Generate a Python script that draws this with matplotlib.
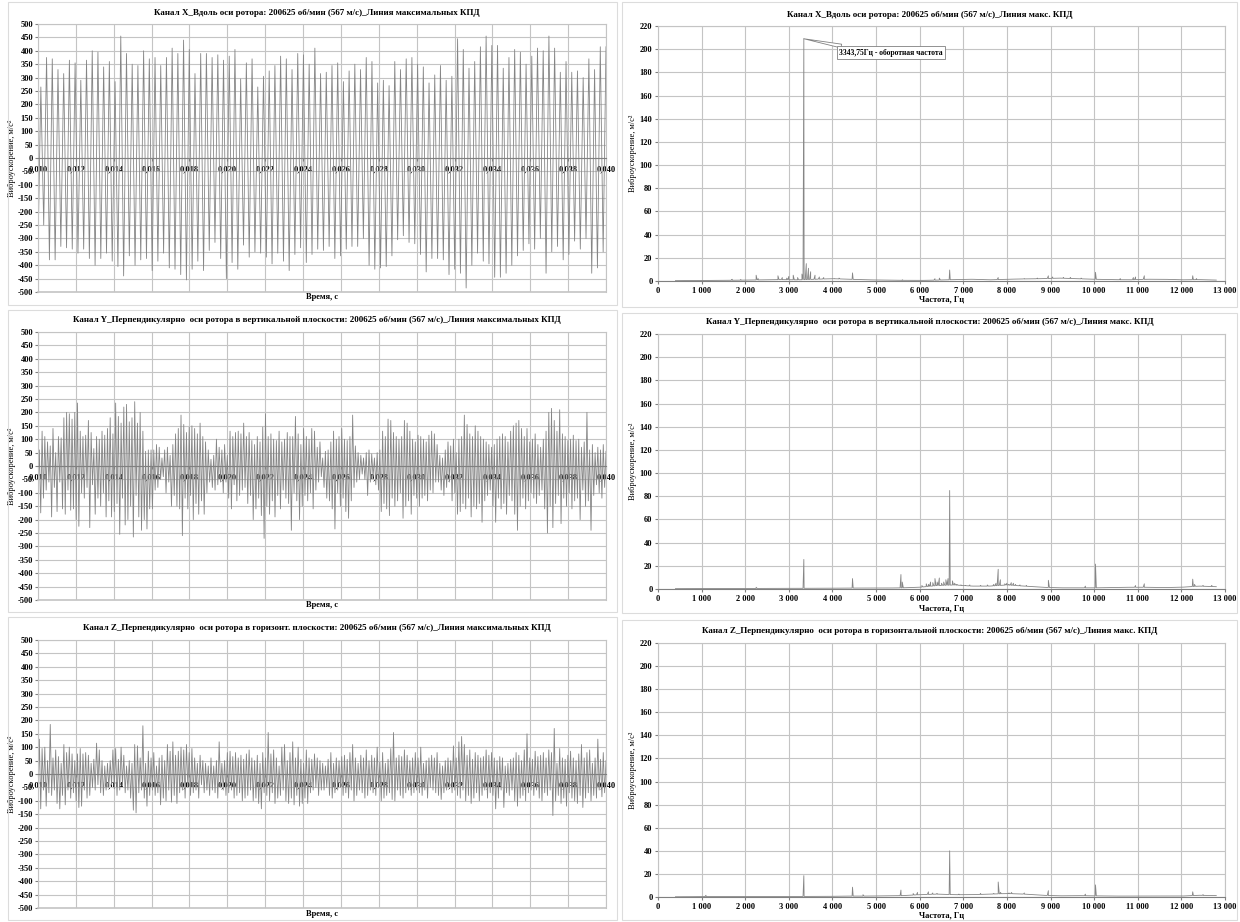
import numpy as np
import matplotlib
matplotlib.use("Agg")
from matplotlib import pyplot as plt
from matplotlib.patches import Rectangle
from matplotlib.ticker import FuncFormatter

plt.rcParams['font.family'] = ['Liberation Serif', 'DejaVu Serif']
plt.rcParams['font.weight'] = 'bold'

# ---- временные сигналы (пики / впадины, м/с2) ----
x_peaks = [265, 375, 370, 330, 315, 365, 355, 290, 365, 400,
           395, 340, 360, 285, 455, 390, 350, 345, 400, 370,
           375, 345, 375, 410, 390, 440, 405, 315, 390, 390,
           375, 385, 365, 380, 405, 295, 355, 370, 265, 305,
           325, 345, 380, 370, 330, 390, 385, 350, 410, 315,
           320, 345, 355, 285, 325, 350, 330, 375, 360, 280,
           290, 270, 360, 330, 370, 375, 350, 340, 280, 310,
           345, 290, 305, 445, 405, 335, 360, 415, 455, 420,
           420, 335, 375, 405, 395, 350, 380, 410, 400, 455,
           410, 320, 360, 320, 325, 300, 370, 330, 415, 415]
x_troughs = [-340, -250, -380, -380, -330, -335, -340, -355, -340, -375,
             -400, -375, -355, -385, -405, -440, -365, -400, -380, -375,
             -420, -385, -355, -410, -415, -435, -455, -415, -385, -420,
             -345, -315, -375, -450, -390, -415, -325, -370, -350, -355,
             -370, -395, -355, -385, -420, -360, -335, -390, -360, -340,
             -345, -330, -375, -365, -340, -330, -330, -300, -400, -415,
             -410, -405, -365, -305, -290, -315, -320, -360, -425, -375,
             -375, -380, -435, -415, -430, -485, -400, -355, -385, -395,
             -445, -445, -430, -400, -365, -345, -320, -340, -300, -430,
             -350, -330, -380, -360, -310, -340, -300, -430, -410, -350]

y_peaks = [60, 130, 110, 90, 75, 140, 50,
           110, 105, 180, 200, 195, 175, 200,
           235, 130, 110, 115, 170, 125, 65,
           110, 100, 130, 115, 140, 180, 120,
           235, 185, 160, 220, 230, 165, 180,
           240, 160, 200, 130, 55, 60, 60,
           60, 80, 70, 30, 60, 70, 40,
           80, 120, 140, 190, 155, 125, 145,
           150, 140, 120, 160, 110, 90, 60,
           25, 40, 100, 70, 60, 80, 40,
           130, 110, 125, 130, 120, 160, 110,
           125, 95, 80, 110, 90, 145, 195,
           110, 120, 100, 95, 130, 90, 100,
           125, 110, 110, 185, 120, 80, 140,
           110, 100, 140, 130, 70, 90, 30,
           55, 60, 90, 130, 100, 110, 140,
           100, 95, 110, 190, 75, 50, 40,
           30, 50, 60, 45, 30, 50, 60,
           130, 110, 175, 170, 125, 110, 100,
           110, 170, 160, 130, 100, 90, 115,
           110, 100, 90, 115, 130, 120, 80,
           40, 30, 60, 90, 75, 100, 50,
           100, 110, 190, 155, 120, 110, 150,
           130, 110, 100, 90, 80, 70, 80,
           100, 110, 120, 110, 90, 130, 150,
           160, 170, 140, 110, 140, 90, 100,
           120, 80, 70, 100, 130, 200, 215,
           170, 130, 210, 120, 110, 95, 100,
           115, 95, 100, 70, 90, 200, 60,
           80, 50, 70, 60, 80, 55]
y_troughs = [-100, -175, -120, -90, -60, -190, -80,
             -170, -60, -160, -180, -90, -165, -160,
             -200, -225, -100, -120, -80, -230, -70,
             -180, -120, -150, -100, -190, -130, -190,
             -170, -140, -255, -120, -220, -200, -150,
             -265, -110, -190, -240, -200, -235, -160,
             -160, -90, -80, -50, -40, -100, -60,
             -150, -110, -150, -160, -260, -120, -160,
             -110, -200, -140, -180, -130, -180, -100,
             -60, -80, -90, -70, -60, -100, -60,
             -120, -160, -70, -130, -110, -90, -80,
             -140, -110, -200, -160, -120, -185, -270,
             -150, -180, -130, -190, -110, -160, -90,
             -120, -140, -240, -100, -130, -200, -150,
             -110, -130, -100, -160, -90, -60, -40,
             -80, -120, -130, -160, -235, -100, -150,
             -120, -170, -195, -130, -80, -60, -50,
             -30, -50, -110, -60, -40, -70, -90,
             -170, -140, -160, -185, -120, -150, -130,
             -100, -195, -150, -130, -180, -110, -120,
             -150, -120, -110, -130, -90, -100, -60,
             -60, -90, -110, -80, -60, -130, -100,
             -180, -170, -140, -160, -120, -190, -150,
             -160, -140, -210, -130, -110, -90, -150,
             -210, -120, -160, -140, -180, -110, -130,
             -180, -240, -150, -120, -160, -130, -100,
             -120, -140, -110, -90, -160, -250, -150,
             -230, -140, -110, -215, -120, -150, -100,
             -160, -130, -120, -200, -90, -150, -130,
             -240, -110, -70, -100, -120, -80]

z_peaks = [130, 95, 100, 50, 185, 60, 90,
           65, 40, 110, 80, 100, 75, 50,
           75, 95, 75, 80, 70, 40, 55,
           115, 90, 50, 30, 40, 50, 90,
           95, 55, 100, 70, 30, 50, 40,
           110, 105, 60, 180, 40, 85, 60,
           80, 30, 60, 70, 50, 110, 85,
           120, 70, 85, 100, 90, 110, 80,
           95, 60, 40, 70, 50, 40, 30,
           60, 30, 50, 120, 40, 50, 80,
           85, 65, 80, 60, 70, 55, 75,
           90, 60, 50, 70, 40, 80, 60,
           155, 75, 90, 60, 30, 100, 110,
           50, 80, 120, 60, 100, 55, 40,
           90, 60, 55, 75, 60, 50, 40,
           30, 55, 80, 40, 60, 50, 65,
           70, 55, 80, 110, 60, 40, 70,
           60, 90, 50, 70, 60, 100, 45,
           80, 40, 55, 95, 155, 60, 70,
           65, 90, 70, 50, 60, 80, 60,
           100, 40, 50, 60, 70, 60, 80,
           40, 30, 50, 60, 50, 105, 60,
           120, 140, 110, 70, 90, 55, 80,
           70, 60, 65, 90, 70, 80, 60,
           50, 65, 60, 30, 40, 55, 60,
           80, 70, 50, 90, 150, 60, 55,
           85, 65, 70, 80, 60, 90, 80,
           170, 40, 95, 60, 55, 70, 85,
           60, 50, 75, 110, 60, 80, 90,
           40, 60, 130, 55, 80, 50]
z_troughs = [-95, -130, -60, -120, -70, -80, -60,
             -110, -130, -80, -115, -60, -90, -70,
             -100, -125, -120, -60, -90, -80, -50,
             -60, -40, -70, -80, -60, -50, -40,
             -55, -80, -60, -40, -70, -60, -90,
             -135, -145, -70, -60, -90, -120, -80,
             -60, -80, -70, -115, -90, -100, -60,
             -105, -80, -110, -70, -60, -90, -50,
             -80, -70, -60, -90, -40, -70, -60,
             -80, -60, -70, -90, -50, -60, -80,
             -70, -60, -90, -80, -70, -100, -90,
             -80, -60, -100, -90, -110, -130, -70,
             -80, -100, -70, -110, -90, -80, -60,
             -100, -110, -90, -115, -80, -120, -110,
             -90, -110, -70, -60, -50, -80, -60,
             -60, -50, -80, -90, -70, -60, -50,
             -80, -70, -90, -60, -100, -80, -60,
             -70, -90, -80, -60, -70, -80, -50,
             -100, -90, -80, -70, -95, -100, -60,
             -80, -90, -70, -60, -80, -70, -60,
             -70, -80, -60, -90, -50, -60, -70,
             -80, -95, -70, -60, -50, -70, -60,
             -80, -90, -60, -100, -80, -110, -90,
             -70, -100, -80, -60, -90, -70, -80,
             -130, -90, -60, -125, -70, -80, -60,
             -100, -120, -90, -80, -100, -70, -60,
             -80, -60, -90, -100, -70, -80, -60,
             -155, -100, -80, -110, -90, -120, -70,
             -90, -100, -110, -80, -125, -90, -70,
             -100, -80, -90, -60, -85, -70]

# ---- спектры: фон (каждые 400 Гц от 400 до 12800) и пики ----
floor_freq = list(range(400, 12801, 400))
x_floor = [0.3, 0.4, 0.5, 0.6, 0.8, 1.0, 1.2, 1.0, 1.5, 2.0, 1.5, 1.0, 0.8, 0.6, 0.5, 0.8,
           1.2, 1.5, 1.0, 1.5, 1.8, 2.0, 2.5, 2.0, 1.5, 1.2, 1.0, 1.5, 1.5, 1.0, 1.2, 0.8]
y_floor = [0.3, 0.3, 0.4, 0.4, 0.5, 0.5, 0.5, 0.6, 0.6, 0.7, 0.8, 0.8, 0.8, 1.0, 1.5, 3.0,
           3.5, 2.5, 2.5, 3.5, 2.5, 1.5, 1.0, 1.0, 1.0, 1.2, 1.5, 1.5, 1.2, 1.5, 2.5, 2.0]
z_floor = [0.2, 0.3, 0.4, 0.4, 0.4, 0.5, 0.5, 0.5, 0.5, 0.6, 0.8, 0.8, 1.0, 1.2, 2.0, 2.5,
           2.0, 2.0, 2.5, 3.0, 2.5, 1.5, 1.0, 1.2, 1.0, 0.8, 0.8, 0.8, 0.8, 0.8, 1.5, 1.2]

x_pk_f = [1700, 1900, 2250, 2300, 2750, 2850, 2950, 3000, 3100, 3200, 3300, 3343.75, 3400,
          3450, 3500, 3600, 3700, 3800, 4050, 4150, 4460, 5600, 6350, 6450, 6687.5, 7800,
          8400, 8700, 8950, 9050, 9300, 9450, 9700, 10031, 10600, 10900, 10950, 11150,
          12260, 12350]
x_pk_a = [1.5, 1.2, 5, 2, 4.5, 3, 2.5, 4, 5, 3, 6, 209, 15,
          11, 8, 5, 3.5, 3, 2, 2.5, 7, 1, 2, 2.5, 9.5, 3,
          2, 2.5, 4.5, 3.5, 3, 3, 2.5, 7.5, 2, 3, 3.5, 4.5,
          4.5, 2]

y_pk_f = [2250, 3343.75, 4460, 5570, 5600, 6050, 6150, 6200, 6250, 6300, 6350, 6400, 6450,
          6500, 6550, 6600, 6650, 6687.5, 6750, 6800, 6850, 6950, 7050, 7150, 7300, 7400,
          7550, 7700, 7750, 7800, 7850, 7950, 8000, 8050, 8100, 8150, 8200, 8300, 8450,
          8950, 9800, 10031, 10950, 11150, 12260, 12300, 12500, 12700]
y_pk_a = [1.5, 25.5, 9, 12.5, 6, 3, 4.5, 4, 6, 5.5, 9, 6, 9.5,
          5, 6, 8, 9, 85, 7, 5, 4, 3.5, 3, 3.5, 2.5, 3,
          3.5, 4, 5, 17, 8, 4.5, 5, 4, 5.5, 5, 4, 3.5, 3,
          7.5, 2.5, 21.5, 3, 4.5, 8.5, 4, 3, 3]

z_pk_f = [1100, 3343.75, 4460, 4700, 5570, 5850, 5950, 6200, 6300, 6400, 6687.5, 6900,
          7400, 7700, 7800, 7850, 8050, 8100, 8400, 8950, 9800, 10031, 12260, 12500]
z_pk_a = [1.5, 18.5, 8.5, 2, 6, 3, 4, 4.5, 3.5, 3, 40, 2.5,
          3, 3, 13, 4, 3.5, 4, 3.5, 5.5, 2.5, 10.5, 4.5, 2]

left_titles = [
    "Канал X_Вдоль оси ротора: 200625 об/мин (567 м/с)_Линия максимальных КПД",
    "Канал Y_Перпендикулярно  оси ротора в вертикальной плоскости: 200625 об/мин (567 м/с)_Линия максимальных КПД",
    "Канал Z_Перпендикулярно  оси ротора в горизонт. плоскости: 200625 об/мин (567 м/с)_Линия максимальных КПД",
]
right_titles = [
    "Канал X_Вдоль оси ротора: 200625 об/мин (567 м/с)_Линия макс. КПД",
    "Канал Y_Перпендикулярно  оси ротора в вертикальной плоскости: 200625 об/мин (567 м/с)_Линия макс. КПД",
    "Канал Z_Перпендикулярно  оси ротора в горизонтальной плоскости: 200625 об/мин (567 м/с)_Линия макс. КПД",
]

W, H = 1240, 922
fig = plt.figure(figsize=(W / 100, H / 100), dpi=100)
fig.patch.set_facecolor('white')

GRID = '#c4c4c4'
LINE = '#858585'
FS = 6


def px_axes(l, t, r, b):
    return fig.add_axes([l / W, 1 - b / H, (r - l) / W, (b - t) / H])


def frame(x0, y0, x1, y1):
    fig.add_artist(Rectangle((x0 / W, 1 - y1 / H), (x1 - x0) / W, (y1 - y0) / H,
                             transform=fig.transFigure, fill=False, ec='#dcdcdc', lw=0.8))


def time_panel(box, peaks, troughs, title, title_y, xlabel_y):
    ax = px_axes(*box)
    vals = np.column_stack([troughs, peaks]).ravel()
    t = np.linspace(0.010, 0.040, len(vals))
    ax.plot(t, vals, color=LINE, lw=0.6)
    ax.set_xlim(0.010, 0.040)
    ax.set_ylim(-500, 500)
    ax.set_yticks(np.arange(-500, 501, 50))
    ax.set_xticks(np.arange(0.010, 0.0401, 0.002))
    ax.yaxis.set_major_formatter(FuncFormatter(lambda v, p: "%d" % round(v)))
    ax.xaxis.set_major_formatter(FuncFormatter(lambda v, p: ("%.3f" % v).replace('.', ',')))
    ax.grid(True, color=GRID, lw=0.8)
    ax.set_axisbelow(True)
    for s in ['top', 'left', 'right']:
        ax.spines[s].set_color(GRID)
    # горизонтальная ось пересекает вертикальную в нуле, как в Excel
    ax.spines['bottom'].set_position(('data', 0))
    ax.spines['bottom'].set_color('#808080')
    ax.axhline(-500, color=GRID, lw=1.2, clip_on=False)
    ax.tick_params(axis='both', labelsize=FS, length=2, pad=1.5, color='#808080')
    ax.tick_params(axis='x', pad=3)
    for lab in ax.get_xticklabels():
        lab.set_zorder(5)
    ax.set_ylabel("Виброускорение, м/с²", fontsize=FS, labelpad=1)
    fig.text(317 / W, 1 - title_y / H, title, ha='center', va='center', fontsize=6.5)
    fig.text(322 / W, 1 - xlabel_y / H, "Время, с", ha='center', va='center', fontsize=FS)
    return ax


def spec_panel(box, floor, pk_f, pk_a, title, title_y, xlabel_y):
    ax = px_axes(*box)
    grid_f = np.arange(400, 12801, 25)
    freq = np.concatenate([grid_f, pk_f])
    amp = np.concatenate([np.interp(grid_f, floor_freq, floor), pk_a])
    order = np.argsort(freq)
    ax.plot(freq[order], amp[order], color=LINE, lw=0.6)
    ax.set_xlim(0, 13000)
    ax.set_ylim(0, 220)
    ax.set_xticks(np.arange(0, 13001, 1000))
    ax.set_yticks(np.arange(0, 221, 20))
    ax.xaxis.set_major_formatter(FuncFormatter(lambda v, p: "{:,}".format(int(v)).replace(',', ' ')))
    ax.grid(True, color=GRID, lw=0.8)
    ax.set_axisbelow(True)
    for s in ['top', 'left', 'right']:
        ax.spines[s].set_color(GRID)
    ax.spines['bottom'].set_color('#808080')
    ax.tick_params(axis='both', labelsize=FS, length=2, pad=2, color='#808080')
    ax.set_ylabel("Виброускорение, м/с²", fontsize=FS, labelpad=2)
    fig.text(930 / W, 1 - title_y / H, title, ha='center', va='center', fontsize=6.5)
    fig.text(942 / W, 1 - xlabel_y / H, "Частота, Гц", ha='center', va='center', fontsize=FS)
    return ax


# рамки диаграмм
frame(8, 2, 617, 305)
frame(8, 310, 617, 612)
frame(8, 617, 617, 920)
frame(622, 2, 1237, 307)
frame(622, 313, 1237, 613)
frame(622, 620, 1237, 920)

left_boxes = [(38, 24, 606, 292), (38, 332, 606, 600), (38, 640, 606, 908)]
left_title_y = [13, 320, 628]
left_xlab_y = [297, 605, 914]
series = [(x_peaks, x_troughs), (y_peaks, y_troughs), (z_peaks, z_troughs)]
for i in range(3):
    time_panel(left_boxes[i], series[i][0], series[i][1], left_titles[i],
               left_title_y[i], left_xlab_y[i])

right_boxes = [(658, 26, 1225, 281), (658, 334, 1225, 589), (658, 643, 1225, 897)]
right_title_y = [15, 322, 631]
right_xlab_y = [299, 608, 915]
spectra = [(x_floor, x_pk_f, x_pk_a), (y_floor, y_pk_f, y_pk_a), (z_floor, z_pk_f, z_pk_a)]
axs = []
for i in range(3):
    axs.append(spec_panel(right_boxes[i], spectra[i][0], spectra[i][1], spectra[i][2],
                          right_titles[i], right_title_y[i], right_xlab_y[i]))

# выноска оборотной частоты
axs[0].annotate("3343,75Гц - оборотная частота", xy=(3343.75, 209), xytext=(4150, 197),
                ha='left', va='center', fontsize=5.5,
                bbox=dict(boxstyle='square,pad=0.3', fc='white', ec='#808080', lw=0.6),
                arrowprops=dict(arrowstyle='wedge,tail_width=0.5', fc='white', ec='#808080',
                                lw=0.6, relpos=(0.15, 1.0), shrinkA=0, shrinkB=0))

plt.savefig("out.png", dpi=100, facecolor='white')
